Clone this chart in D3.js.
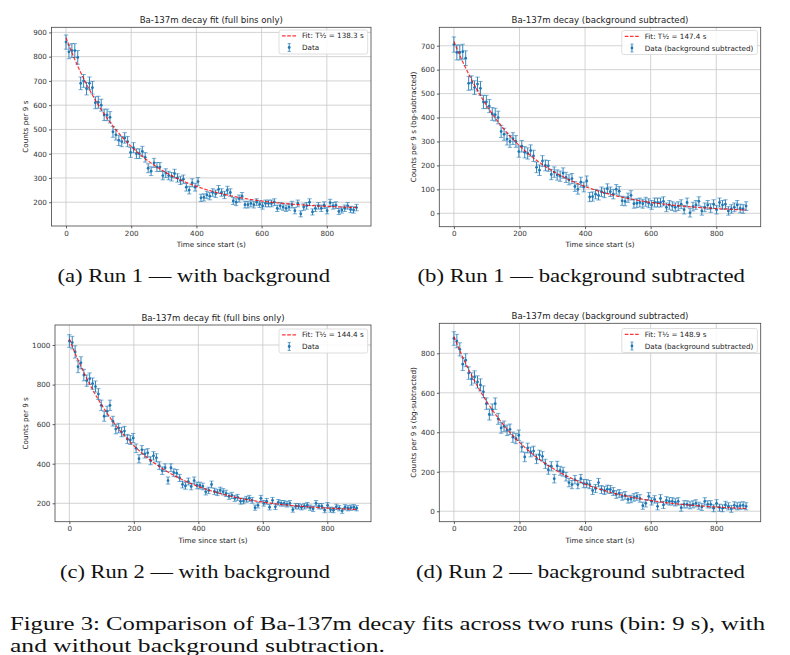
<!DOCTYPE html>
<html>
<head>
<meta charset="utf-8">
<script src="https://cdn.jsdelivr.net/npm/d3@7"></script>
<style>
  body { margin: 0; background: #fff; }
  svg { display: block; }
</style>
</head>
<body>
<div id="chart"></div>
<script>
// Bins are 9 s wide, full bins only
const binWidth = 9;
const nBins = 100;
const times = d3.range(nBins).map(i => i * binWidth);

// Counts per bin
const run1Counts = [
  860, 820, 825, 825, 797, 690, 700, 668, 690, 672,
  610, 612, 600, 560, 560, 550, 490, 478, 455, 450,
  465, 450, 405, 425, 400, 400, 410, 385, 340, 328,
  362, 345, 345, 310, 320, 310, 305, 318, 300, 290,
  295, 262, 250, 280, 262, 285, 218, 220, 230, 225,
  240, 235, 253, 240, 230, 250, 240, 205, 200, 215,
  225, 190, 190, 195, 190, 200, 192, 185, 195, 195,
  195, 200, 175, 185, 180, 175, 180, 190, 165, 195,
  152, 180, 185, 200, 160, 175, 185, 175, 188, 165,
  198, 185, 188, 162, 168, 175, 185, 170, 168, 178
];
const run1Subtracted = [
  705, 672, 672, 675, 648, 543, 545, 525, 540, 522,
  465, 465, 448, 415, 412, 400, 342, 330, 310, 300,
  312, 300, 258, 280, 255, 250, 262, 240, 192, 180,
  218, 200, 198, 162, 172, 160, 155, 168, 150, 140,
  145, 112, 100, 130, 110, 135, 68, 70, 80, 75,
  90, 85, 103, 90, 80, 100, 92, 52, 50, 65,
  75, 40, 42, 45, 40, 48, 42, 35, 45, 45,
  45, 50, 25, 35, 30, 25, 30, 38, 15, 45,
  2, 28, 35, 50, 10, 25, 35, 22, 38, 15,
  45, 35, 38, 10, 18, 25, 35, 20, 18, 30
];
const run2Counts = [
  1020, 1012, 965, 890, 910, 848, 820, 830, 805, 790,
  752, 695, 640, 665, 695, 615, 575, 580, 560, 565,
  525, 520, 530, 478, 425, 470, 450, 455, 415, 440,
  430, 390, 365, 380, 315, 380, 355, 352, 328, 295,
  288, 310, 285, 315, 290, 290, 285, 258, 265, 295,
  260, 255, 265, 258, 250, 235, 240, 225, 230, 210,
  212, 220, 225, 215, 178, 190, 225, 200, 210, 180,
  215, 182, 205, 200, 200, 195, 200, 168, 185, 185,
  180, 185, 190, 178, 172, 200, 185, 185, 165, 190,
  168, 165, 182, 175, 162, 180, 175, 178, 180, 175
];
const run2Subtracted = [
  875, 862, 820, 745, 765, 700, 670, 680, 655, 640,
  605, 545, 490, 515, 545, 468, 422, 430, 410, 415,
  375, 368, 385, 325, 275, 320, 300, 305, 265, 285,
  278, 240, 210, 228, 165, 230, 205, 200, 175, 145,
  135, 160, 135, 165, 140, 140, 135, 105, 115, 145,
  110, 105, 112, 110, 100, 85, 90, 75, 80, 60,
  62, 70, 75, 65, 28, 40, 75, 50, 60, 25,
  65, 32, 55, 50, 50, 45, 50, 18, 35, 35,
  30, 35, 40, 28, 22, 50, 35, 35, 15, 40,
  18, 15, 32, 25, 12, 30, 25, 28, 30, 25
];

// background counts per bin for run 1 and run 2
const backgroundPerBin = [153, 150];

// fit: A * exp(-ln2 t / T½) + C, one entry per panel
const fitAmplitude = [708, 715, 873, 885];
const fitHalfLife = [138.3, 147.4, 144.4, 148.9];
const fitOffset = [170, 3, 157, 0];

const titles = [
  "Ba-137m decay fit (full bins only)",
  "Ba-137m decay (background subtracted)",
  "Ba-137m decay fit (full bins only)",
  "Ba-137m decay (background subtracted)"
];
const yLabels = ["Counts per 9 s", "Counts per 9 s (bg-subtracted)", "Counts per 9 s", "Counts per 9 s (bg-subtracted)"];
const dataLabels = ["Data", "Data (background subtracted)", "Data", "Data (background subtracted)"];
const xTicks = [0, 200, 400, 600, 800];
const yTicks = [
  [200, 300, 400, 500, 600, 700, 800, 900],
  [0, 100, 200, 300, 400, 500, 600, 700],
  [200, 400, 600, 800, 1000],
  [0, 200, 400, 600, 800]
];
const subCaptions = [
  "(a) Run 1 \u2014 with background",
  "(b) Run 1 \u2014 background subtracted",
  "(c) Run 2 \u2014 with background",
  "(d) Run 2 \u2014 background subtracted"
];
const figureCaption = [
  "Figure 3: Comparison of Ba-137m decay fits across two runs (bin: 9 s), with",
  "and without background subtraction."
];

const W = 790, H = 655;
const sans = "DejaVu Sans, sans-serif";
const serif = "Liberation Serif, DejaVu Serif, serif";
const blue = "#1f77b4";

const svg = d3.select("#chart").append("svg")
  .attr("width", W).attr("height", H)
  .attr("viewBox", `0 0 ${W} ${H}`);
svg.append("rect").attr("width", W).attr("height", H).attr("fill", "#fff");

// panel boxes and axis ranges
const panels = [
  { counts: run1Counts, bg: null, left: 51.5, right: 371, top: 27.3, bottom: 226, yDomain: [102, 921], titleY: 23, xLabelY: 247, yLabelX: 27.5, legTop: 30, capX: [57.5, 330], capY: 282 },
  { counts: run1Subtracted, bg: backgroundPerBin[0], left: 439.3, right: 760.7, top: 27.3, bottom: 226.7, yDomain: [-56, 777], titleY: 22.5, xLabelY: 247, yLabelX: 416, legTop: 30.5, capX: [417.5, 745], capY: 282 },
  { counts: run2Counts, bg: null, left: 55, right: 371, top: 325, bottom: 521.7, yDomain: [107, 1101], titleY: 321.3, xLabelY: 542.7, yLabelX: 27.5, legTop: 329, capX: [60, 330], capY: 578 },
  { counts: run2Subtracted, bg: backgroundPerBin[1], left: 439.3, right: 760.7, top: 323.3, bottom: 521.7, yDomain: [-53, 952], titleY: 318.5, xLabelY: 542.7, yLabelX: 416, legTop: 328.5, capX: [416, 745], capY: 578 }
];

panels.forEach((p, i) => {
  const x = d3.scaleLinear().domain([-44.5, 935.5]).range([p.left, p.right]);
  const y = d3.scaleLinear().domain(p.yDomain).range([p.bottom, p.top]);
  const g = svg.append("g");

  // Poisson errors
  const pts = times.map((t, k) => {
    const c = p.counts[k];
    const err = p.bg == null ? Math.sqrt(c) : Math.sqrt(Math.max(c, 0) + 2 * p.bg);
    return { t, c, err };
  });

  // grid
  g.append("g").selectAll("line").data(xTicks).join("line")
    .attr("x1", d => x(d)).attr("x2", d => x(d))
    .attr("y1", p.top).attr("y2", p.bottom)
    .attr("stroke", "#c8c8c8").attr("stroke-width", 0.8);
  g.append("g").selectAll("line").data(yTicks[i]).join("line")
    .attr("x1", p.left).attr("x2", p.right)
    .attr("y1", d => y(d)).attr("y2", d => y(d))
    .attr("stroke", "#c8c8c8").attr("stroke-width", 0.8);

  // error bars
  const eb = g.append("g").selectAll("g").data(pts).join("g");
  eb.append("line")
    .attr("x1", d => x(d.t)).attr("x2", d => x(d.t))
    .attr("y1", d => y(d.c - d.err)).attr("y2", d => y(d.c + d.err))
    .attr("stroke", blue).attr("stroke-width", 0.9);
  [-1, 1].forEach(s => {
    eb.append("line")
      .attr("x1", d => x(d.t) - 2.2).attr("x2", d => x(d.t) + 2.2)
      .attr("y1", d => y(d.c + s * d.err)).attr("y2", d => y(d.c + s * d.err))
      .attr("stroke", blue).attr("stroke-opacity", 0.65).attr("stroke-width", 0.9);
  });
  eb.append("circle")
    .attr("cx", d => x(d.t)).attr("cy", d => y(d.c))
    .attr("r", 1.4).attr("fill", blue);

  // fit curve
  const fit = t => fitAmplitude[i] * Math.exp(-Math.LN2 * t / fitHalfLife[i]) + fitOffset[i];
  const tFine = d3.range(0, times[times.length - 1] + 1, 3);
  g.append("path")
    .datum(tFine)
    .attr("d", d3.line().x(t => x(t)).y(t => y(fit(t))))
    .attr("fill", "none")
    .attr("stroke", "red").attr("stroke-opacity", 0.8)
    .attr("stroke-width", 1.2)
    .attr("stroke-dasharray", "3.6,1.6");

  // axes
  const xAxis = g.append("g")
    .attr("transform", `translate(0,${p.bottom})`)
    .call(d3.axisBottom(x).tickValues(xTicks).tickFormat(d3.format("d")).tickSize(2.4).tickPadding(2.2));
  const yAxis = g.append("g")
    .attr("transform", `translate(${p.left},0)`)
    .call(d3.axisLeft(y).tickValues(yTicks[i]).tickFormat(d3.format("d")).tickSize(2.4).tickPadding(2.2));
  [xAxis, yAxis].forEach(a => {
    a.attr("font-family", sans).attr("font-size", 7.2).attr("color", "#333");
    a.select(".domain").remove();
    a.selectAll(".tick line").attr("stroke-width", 0.8);
  });

  // spines
  g.append("rect")
    .attr("x", p.left).attr("y", p.top)
    .attr("width", p.right - p.left).attr("height", p.bottom - p.top)
    .attr("fill", "none").attr("stroke", "#444").attr("stroke-width", 0.8);

  // title and labels
  g.append("text")
    .attr("x", (p.left + p.right) / 2).attr("y", p.titleY)
    .attr("text-anchor", "middle")
    .attr("font-family", sans).attr("font-size", 8.6).attr("fill", "#222")
    .text(titles[i]);
  g.append("text")
    .attr("x", (p.left + p.right) / 2).attr("y", p.xLabelY)
    .attr("text-anchor", "middle")
    .attr("font-family", sans).attr("font-size", 7.2).attr("fill", "#222")
    .text("Time since start (s)");
  g.append("text")
    .attr("transform", `translate(${p.yLabelX},${(p.top + p.bottom) / 2}) rotate(-90)`)
    .attr("text-anchor", "middle")
    .attr("font-family", sans).attr("font-size", 7.2).attr("fill", "#222")
    .text(yLabels[i]);

  // legend
  const leg = g.append("g");
  const box = leg.append("rect");
  const t1 = leg.append("text")
    .attr("font-family", sans).attr("font-size", 7.2).attr("fill", "#222")
    .text(`Fit: T\u00BD = ${fitHalfLife[i].toFixed(1)} s`);
  const t2 = leg.append("text")
    .attr("font-family", sans).attr("font-size", 7.2).attr("fill", "#222")
    .text(dataLabels[i]);
  const tw = Math.max(t1.node().getComputedTextLength(), t2.node().getComputedTextLength());
  const bw = 23 + tw + 4;
  const bl = p.right - 3.3 - bw;
  const r1 = p.legTop + 5.8, r2 = p.legTop + 17.5;
  box.attr("x", bl).attr("y", p.legTop).attr("width", bw).attr("height", 24)
    .attr("rx", 2).attr("fill", "#fff").attr("fill-opacity", 0.85)
    .attr("stroke", "#d6d6d6").attr("stroke-width", 0.8);
  t1.attr("x", bl + 23).attr("y", r1 + 2.6);
  t2.attr("x", bl + 23).attr("y", r2 + 2.6);
  leg.append("line")
    .attr("x1", bl + 3).attr("x2", bl + 17.5).attr("y1", r1).attr("y2", r1)
    .attr("stroke", "red").attr("stroke-opacity", 0.8)
    .attr("stroke-width", 1.2).attr("stroke-dasharray", "3.6,1.6");
  const hx = bl + 10.2;
  leg.append("line").attr("x1", hx).attr("x2", hx).attr("y1", r2 - 4).attr("y2", r2 + 4)
    .attr("stroke", blue).attr("stroke-width", 0.9);
  [-4, 4].forEach(o => leg.append("line")
    .attr("x1", hx - 1.6).attr("x2", hx + 1.6).attr("y1", r2 + o).attr("y2", r2 + o)
    .attr("stroke", blue).attr("stroke-opacity", 0.65).attr("stroke-width", 0.9));
  leg.append("circle").attr("cx", hx).attr("cy", r2).attr("r", 1.4).attr("fill", blue);

  // sub-caption
  svg.append("text")
    .attr("x", p.capX[0]).attr("y", p.capY)
    .attr("textLength", p.capX[1] - p.capX[0]).attr("lengthAdjust", "spacingAndGlyphs")
    .attr("font-family", serif).attr("font-size", 18.5).attr("fill", "#111")
    .text(subCaptions[i]);
});

// figure caption
const capLines = [[10, 765, 630], [10, 385, 652]];
figureCaption.forEach((line, k) => {
  svg.append("text")
    .attr("x", capLines[k][0]).attr("y", capLines[k][2])
    .attr("textLength", capLines[k][1] - capLines[k][0]).attr("lengthAdjust", "spacingAndGlyphs")
    .attr("font-family", serif).attr("font-size", 18.5).attr("fill", "#111")
    .text(line);
});
</script>
</body>
</html>
